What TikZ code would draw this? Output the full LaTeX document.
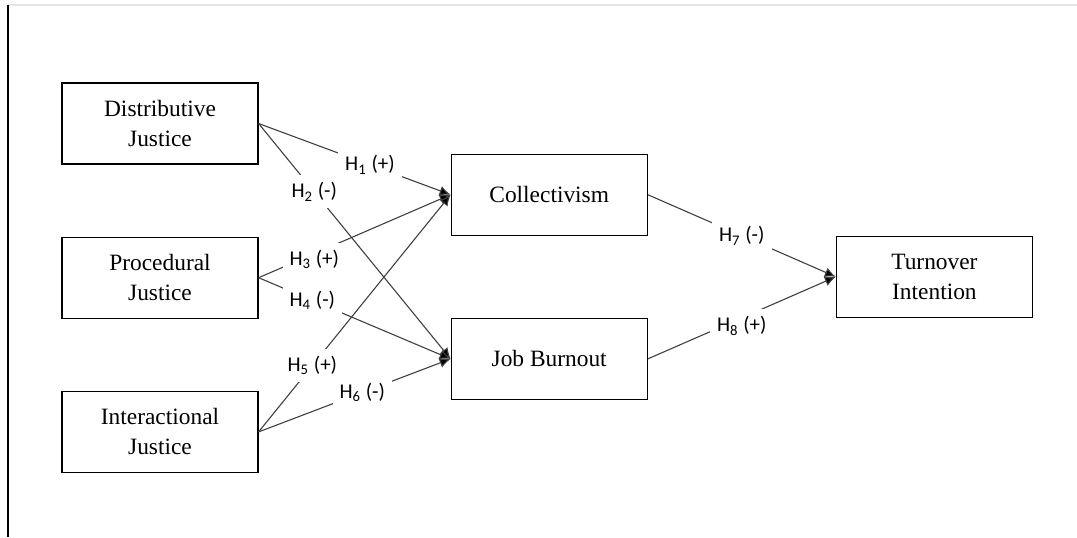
\documentclass[tikz,border=0pt]{standalone}
\usepackage{fontspec}
\setmainfont{Liberation Serif}
\newfontfamily\hypfont{Carlito}
\usetikzlibrary{arrows.meta, positioning, calc}

\begin{document}
\begin{tikzpicture}[
    node distance=36pt and 96pt,
    box/.style={rectangle, draw, line width=0.6pt, minimum width=98pt, minimum height=40.5pt, align=center, inner sep=2pt, font=\fontsize{11.7}{15}\selectfont},
    hyp/.style={fill=white, inner sep=3.5pt, font=\hypfont\fontsize{10.5}{12}\selectfont},
    arr/.style={-{Latex[length=5.5pt, width=5pt, fill=black]}, line width=0.55pt, draw=black!75}
]
    % Page frame
    \path[use as bounding box] (-80pt,61.75pt) rectangle (458.5pt,-206.75pt);
    \draw[black!10, line width=0.6pt] (-76pt,59.25pt) -- (458.5pt,59.25pt);
    \draw[line width=0.7pt] (-76pt,59.25pt) -- (-76pt,-206.75pt);

    % Nodes
    \node[box] (dist) at (0,0) {Distributive\\Justice};
    \node[box, below=of dist] (proc) {Procedural\\Justice};
    \node[box, below=of proc] (inter) {Interactional\\Justice};

    \node[box, right=96pt of proc, yshift=41.5pt] (coll) {Collectivism};
    \node[box, below=41pt of coll] (burn) {Job Burnout};
    \node[box, anchor=west] (turn) at ($(coll.east)!0.5!(burn.east)+(94pt,0)$) {Turnover\\Intention};

    % Arrows
    \draw[arr] (dist.east) -- node[hyp, pos=0.58] {H\textsubscript{1} (+)} (coll.west);
    \draw[arr] (dist.east) -- node[hyp, pos=0.29] {H\textsubscript{2} (-)} (burn.west);
    \draw[arr] (proc.east) -- node[hyp, pos=0.29, yshift=-3pt] {H\textsubscript{3} (+)} (coll.west);
    \draw[arr] (proc.east) -- node[hyp, pos=0.28] {H\textsubscript{4} (-)} (burn.west);
    \draw[arr] (inter.east) -- node[hyp, pos=0.28] {H\textsubscript{5} (+)} (coll.west);
    \draw[arr] (inter.east) -- node[hyp, pos=0.54] {H\textsubscript{6} (-)} (burn.west);
    \draw[arr] (coll.east) -- node[hyp, pos=0.5] {H\textsubscript{7} (-)} (turn.west);
    \draw[arr] (burn.east) -- node[hyp, pos=0.5, yshift=-4pt] {H\textsubscript{8} (+)} (turn.west);

\end{tikzpicture}
\end{document}
